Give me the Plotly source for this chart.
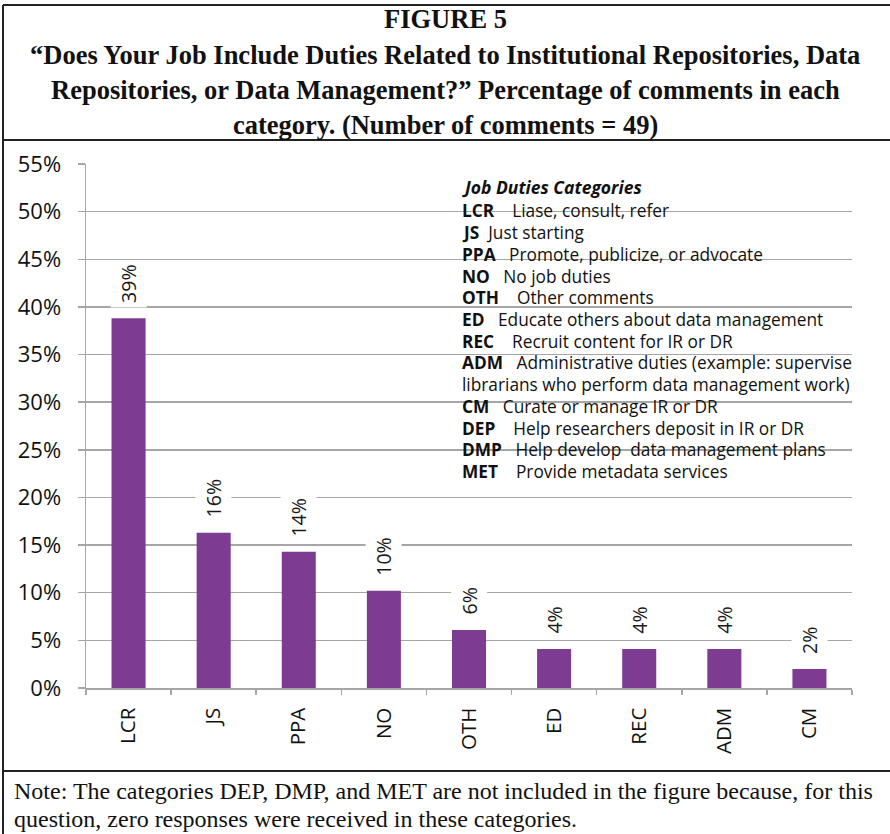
import plotly.graph_objects as go

# ---- data ----
categories = ["LCR", "JS", "PPA", "NO", "OTH", "ED", "REC", "ADM", "CM"]
values = [38.8, 16.3, 14.3, 10.2, 6.1, 4.1, 4.1, 4.1, 2.0]
y_ticks = [0, 5, 10, 15, 20, 25, 30, 35, 40, 45, 50, 55]

legend_title = "Job Duties Categories"
legend_codes = ["LCR", "JS", "PPA", "NO", "OTH", "ED", "REC", "ADM", "", "CM", "DEP", "DMP", "MET"]
legend_desc = [
    "Liase, consult, refer",
    "Just starting",
    "Promote, publicize, or advocate",
    "No job duties",
    "Other comments",
    "Educate others about data management",
    "Recruit content for IR or DR",
    "Administrative duties (example: supervise",
    "librarians who perform data management work)",
    "Curate or manage IR or DR",
    "Help researchers deposit in IR or DR",
    "Help develop  data management plans",
    "Provide metadata services",
]
legend_gap = [4, 2, 3, 3, 4, 3, 4, 3, 0, 3, 4, 3, 4]

title_lines = [
    "FIGURE 5",
    "\u201cDoes Your Job Include Duties Related to Institutional Repositories, Data",
    "Repositories, or Data Management?\u201d Percentage of comments in each",
    "category. (Number of comments = 49)",
]
note_lines = [
    "Note: The categories DEP, DMP, and MET are not included in the figure because, for this",
    "question, zero responses were received in these categories.",
]

# ---- geometry helpers (pixel -> paper) ----
W, H = 890, 834
L, R, T, B = 86, 852, 164, 688


def px(x):
    return (x - L) / (R - L)


def py(y):
    return (B - y) / (B - T)


BAR = "#7D3C92"
GRID = "#A6A6A6"
SANS = "Open Sans, DejaVu Sans, sans-serif"
SERIF = "Liberation Serif, Times New Roman, serif"

fig = go.Figure()
fig.add_trace(go.Bar(
    x=categories, y=values, marker=dict(color=BAR, line=dict(width=0)),
    width=0.4, hoverinfo="skip",
))

ann = []
# value labels above bars
for c, v in zip(categories, values):
    ann.append(dict(
        x=c, y=v, xref="x", yref="y", text=f"{round(v)}%", textangle=-90,
        showarrow=False, yanchor="bottom", xanchor="center", yshift=10,
        bgcolor="white", borderpad=4, font=dict(family=SANS, size=19.5, color="#1a1a1a"),
    ))

# legend block
leg_x = px(460)
ann.append(dict(
    x=leg_x, y=py(187), xref="paper", yref="paper", text=f"<b><i>{legend_title}</i></b>",
    showarrow=False, xanchor="left", yanchor="middle", align="left",
    font=dict(family=SANS, size=17.5, color="#111"),
))
line_y = [210, 232.3, 254.7, 276, 297.3, 319.3, 341, 362.7, 384.7, 406.3, 428, 449.7, 471.3]
for code, desc, gap, yy in zip(legend_codes, legend_desc, legend_gap, line_y):
    txt = (f"<b>{code}</b>" + "\u00a0" * gap + desc) if code else desc
    ann.append(dict(
        x=leg_x, y=py(yy), xref="paper", yref="paper", text=txt,
        showarrow=False, xanchor="left", yanchor="middle", align="left",
        font=dict(family=SANS, size=17.3, color="#111"),
    ))

# title lines
for t, yy in zip(title_lines, [19, 55, 90, 125]):
    ann.append(dict(
        x=px(445), y=py(yy), xref="paper", yref="paper", text=f"<b>{t}</b>",
        showarrow=False, xanchor="center", yanchor="middle",
        font=dict(family=SERIF, size=26.5, color="#111"),
    ))

# note lines
for t, yy in zip(note_lines, [791, 819]):
    ann.append(dict(
        x=px(12), y=py(yy), xref="paper", yref="paper", text=t,
        showarrow=False, xanchor="left", yanchor="middle",
        font=dict(family=SERIF, size=24, color="#111"),
    ))

line_style = dict(color="#222", width=2)
shapes = [
    dict(type="line", xref="paper", yref="paper", x0=px(3), x1=px(3), y0=py(5), y1=py(834), line=line_style),
    dict(type="line", xref="paper", yref="paper", x0=px(3), x1=px(890), y0=py(5), y1=py(5), line=line_style),
    dict(type="line", xref="paper", yref="paper", x0=px(3), x1=px(890), y0=py(140), y1=py(140), line=line_style),
    dict(type="line", xref="paper", yref="paper", x0=px(3), x1=px(890), y0=py(771), y1=py(771), line=line_style),
]

fig.update_layout(
    width=W, height=H,
    margin=dict(l=L, r=W - R, t=T, b=H - B, pad=0),
    paper_bgcolor="white", plot_bgcolor="white",
    showlegend=False, bargap=0.6,
    annotations=ann, shapes=shapes,
    xaxis=dict(
        type="category", tickangle=-90, tickson="boundaries", ticks="outside",
        ticklen=5, tickcolor=GRID, tickwidth=1.5,
        showline=True, linecolor=GRID, linewidth=1.5, showgrid=False,
        tickfont=dict(family=SANS, size=20.5, color="#111"),
        ticklabelstandoff=10,
    ),
    yaxis=dict(
        range=[0, 55], tickvals=y_ticks, ticktext=[f"{v}%" for v in y_ticks],
        ticks="outside", ticklen=7, tickcolor=GRID, tickwidth=1.5,
        showline=True, linecolor=GRID, linewidth=1.5,
        showgrid=True, gridcolor=GRID, gridwidth=1.5, zeroline=False,
        tickfont=dict(family=SANS, size=22, color="#111"),
        ticklabelstandoff=12,
    ),
)

fig.write_html(
    "out.html",
    config={"displayModeBar": False, "staticPlot": True},
    post_script="document.body.style.margin='0';document.body.style.overflow='hidden';",
)
